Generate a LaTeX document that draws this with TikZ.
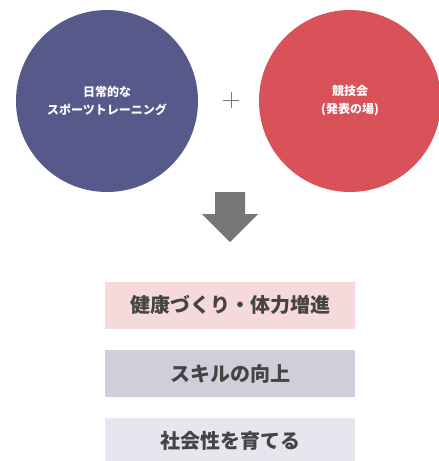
\documentclass[tikz,border=0pt]{standalone}
\usepackage{fontspec}
\newfontfamily\cjk{Noto Sans CJK JP}
\definecolor{cleft}{HTML}{565A8A}
\definecolor{cright}{HTML}{D9525A}
\definecolor{bpink}{HTML}{F6DADB}
\definecolor{bgrey}{HTML}{CFCFDC}
\definecolor{blight}{HTML}{E6E6EE}
\definecolor{arrowgrey}{HTML}{777777}
\definecolor{txtdark}{HTML}{444444}
\tikzset{
  circ/.style={circle, minimum size=182pt, inner sep=0pt, align=center, text=white, font=\cjk\bfseries\fontsize{12}{18}\selectfont},
  resbox/.style={rectangle, minimum width=250pt, minimum height=47pt, inner sep=0pt, text=txtdark, font=\cjk\bfseries\fontsize{20}{22}\selectfont}
}
\begin{document}
\begin{tikzpicture}[x=1pt,y=-1pt]
\useasboundingbox (0,0) rectangle (439,461);
\node[circ, fill=cleft] (left) at (107,101) {日常的な\\スポーツトレーニング};
\node[circ, fill=cright] (right) at (350,101) {競技会\\(発表の場)};
\node[inner sep=0pt, minimum size=15pt] (plus) at (231,100) {};
\draw[arrowgrey, line width=1pt] (plus.west) -- (plus.east) (plus.north) -- (plus.south);
\fill[arrowgrey] (215,192) -- (245,192) -- (245,214) -- (258,214) -- (230,242) -- (202,214) -- (215,214) -- cycle;
\node[resbox, fill=bpink] (b1) at (230,305) {健康づくり・体力増進};
\node[resbox, fill=bgrey] (b2) at (230,373.5) {スキルの向上};
\node[resbox, fill=blight] (b3) at (230,441) {社会性を育てる};
\end{tikzpicture}
\end{document}
